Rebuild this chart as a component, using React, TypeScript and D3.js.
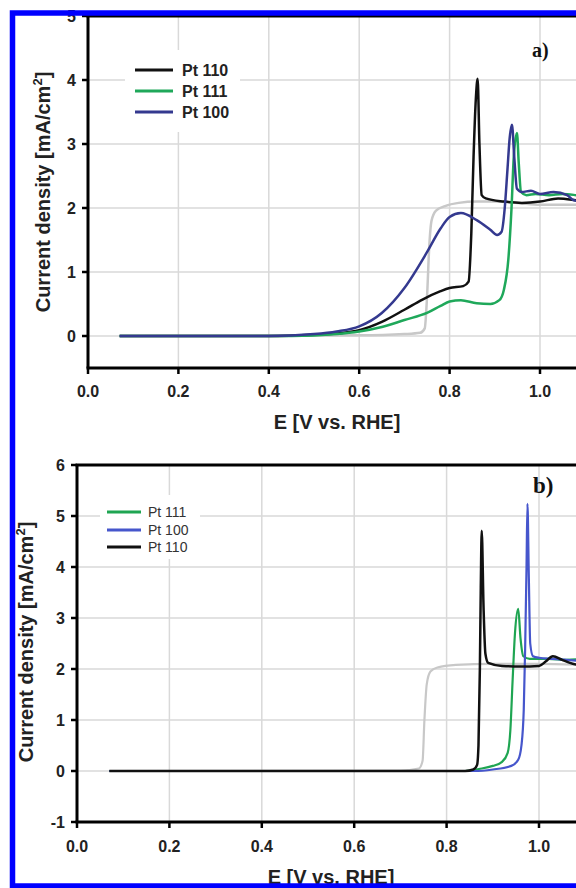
import React from "react";
import * as d3 from "d3";

type Pt = [number, number];

const xTicks = [0, 0.2, 0.4, 0.6, 0.8, 1.0];
const aYTicks = [0, 1, 2, 3, 4, 5];
const bYTicks = [-1, 0, 1, 2, 3, 4, 5, 6];

// panel a) values, [E, j]
const aRef: Pt[] = [[0.07,0],[0.6,0.01],[0.7,0.03],[0.735,0.05],[0.745,0.12],[0.75,0.6],[0.755,1.4],[0.76,1.8],[0.77,1.96],[0.79,2.03],[0.82,2.08],[0.86,2.1],[0.9,2.1],[0.95,2.08],[1.0,2.05],[1.05,2.05],[1.1,2.05]];
const aPt110: Pt[] = [[0.07,0],[0.4,0],[0.5,0.02],[0.55,0.04],[0.6,0.09],[0.65,0.22],[0.7,0.41],[0.74,0.57],[0.78,0.7],[0.8,0.75],[0.83,0.78],[0.842,0.85],[0.848,1.6],[0.853,2.8],[0.858,3.7],[0.862,4.02],[0.866,3.0],[0.871,2.2],[0.88,2.15],[0.92,2.1],[0.96,2.08],[1.0,2.1],[1.04,2.15],[1.08,2.12],[1.1,2.1]];
const aPt111: Pt[] = [[0.07,0],[0.45,0],[0.55,0.03],[0.6,0.07],[0.65,0.14],[0.7,0.25],[0.75,0.36],[0.78,0.47],[0.8,0.54],[0.825,0.56],[0.86,0.51],[0.89,0.5],[0.91,0.56],[0.92,0.72],[0.93,1.2],[0.937,2.0],[0.942,2.8],[0.949,3.17],[0.953,2.7],[0.958,2.25],[0.97,2.2],[0.99,2.22],[1.02,2.2],[1.05,2.22],[1.08,2.2],[1.1,2.18]];
const aPt100: Pt[] = [[0.07,0],[0.4,0],[0.5,0.03],[0.55,0.07],[0.6,0.15],[0.65,0.36],[0.7,0.75],[0.75,1.31],[0.78,1.68],[0.8,1.86],[0.825,1.92],[0.86,1.81],[0.89,1.66],[0.905,1.58],[0.915,1.63],[0.922,2.0],[0.928,2.6],[0.933,3.1],[0.938,3.3],[0.943,2.8],[0.949,2.3],[0.96,2.25],[0.98,2.27],[1.0,2.22],[1.03,2.25],[1.06,2.2],[1.075,2.12],[1.1,2.1]];

// panel b) values
const bRef: Pt[] = [[0.07,0],[0.7,0.01],[0.74,0.05],[0.748,0.2],[0.752,1.0],[0.757,1.7],[0.765,1.95],[0.78,2.03],[0.82,2.08],[0.9,2.1],[1.0,2.1],[1.1,2.08]];
const bPt110: Pt[] = [[0.07,0],[0.84,0],[0.858,0.03],[0.866,0.12],[0.869,0.5],[0.872,2.0],[0.874,3.6],[0.876,4.71],[0.88,3.2],[0.884,2.3],[0.89,2.12],[0.92,2.06],[0.96,2.05],[1.0,2.06],[1.015,2.15],[1.03,2.25],[1.05,2.18],[1.067,2.12],[1.1,2.05]];
const bPt111: Pt[] = [[0.07,0],[0.84,0],[0.87,0.04],[0.9,0.1],[0.92,0.18],[0.932,0.35],[0.938,0.8],[0.943,1.8],[0.948,2.7],[0.955,3.18],[0.96,2.6],[0.966,2.25],[0.98,2.2],[1.02,2.2],[1.06,2.18],[1.1,2.2]];
const bPt100: Pt[] = [[0.07,0],[0.86,0],[0.9,0.03],[0.94,0.1],[0.955,0.22],[0.962,0.5],[0.967,1.2],[0.97,2.4],[0.973,4.0],[0.975,5.24],[0.978,3.8],[0.981,2.5],[0.987,2.25],[1.0,2.22],[1.03,2.2],[1.06,2.18],[1.1,2.15]];

const FONT = "'Liberation Sans', Arial, sans-serif";
const GRID = "#d9d9d9";
const REF = "#c8c8c8";

interface Series { name?: string; data: Pt[]; color: string; width: number }

interface PanelProps {
  x0: number; pxPerV: number;
  yDomain: [number, number]; yRange: [number, number];
  yTicks: number[];
  series: Series[];
  legend: Series[];
  legendBox: [number, number, number, number];
  legendLine: [number, number]; legendRows: number[]; legendText: number;
  legendBold: boolean; legendSize: number; legendColor: string;
  label: string; labelPos: [number, number]; labelSize: number;
  xTitlePos: [number, number]; yTitlePos: [number, number];
  xLabelY: number;
}

const Panel = (p: PanelProps) => {
  const x = d3.scaleLinear().domain([0, 1.2]).range([p.x0, p.x0 + p.pxPerV * 1.2]);
  const y = d3.scaleLinear().domain(p.yDomain).range(p.yRange);
  const line = d3.line<Pt>().x((d) => x(d[0])).y((d) => y(d[1])).curve(d3.curveMonotoneX);
  const [yb, yt] = p.yRange;
  const xr = 600;

  return (
    <g>
      {xTicks.slice(1).map((t) => (
        <line key={"gx" + t} x1={x(t)} x2={x(t)} y1={yt} y2={yb} stroke={GRID} strokeWidth={1.5} />
      ))}
      {p.yTicks.filter((t) => y(t) > yt + 2 && y(t) < yb - 2).map((t) => (
        <line key={"gy" + t} x1={p.x0} x2={xr} y1={y(t)} y2={y(t)} stroke={GRID} strokeWidth={1.5} />
      ))}
      <rect x={p.legendBox[0]} y={p.legendBox[1]} width={p.legendBox[2]} height={p.legendBox[3]} fill="#fff" />
      {p.series.map((s, i) => (
        <path key={i} d={line(s.data) || ""} fill="none" stroke={s.color} strokeWidth={s.width} strokeLinejoin="round" />
      ))}
      {/* axes */}
      <line x1={p.x0} x2={p.x0} y1={yt} y2={yb} stroke="#000" strokeWidth={3} />
      <line x1={p.x0 - 1.5} x2={xr} y1={yb} y2={yb} stroke="#000" strokeWidth={3} />
      <line x1={p.x0 - 1.5} x2={xr} y1={yt} y2={yt} stroke="#000" strokeWidth={3} />
      {p.yTicks.map((t) => (
        <g key={"ty" + t}>
          <line x1={p.x0 - 6} x2={p.x0} y1={y(t)} y2={y(t)} stroke="#000" strokeWidth={2.5} />
          <text x={p.x0 - 12} y={y(t)} dy="0.36em" textAnchor="end" fontFamily={FONT} fontWeight="bold" fontSize={16} fill="#222">{t}</text>
        </g>
      ))}
      {xTicks.map((t) => (
        <g key={"tx" + t}>
          <line x1={x(t)} x2={x(t)} y1={yb} y2={yb + 6} stroke="#000" strokeWidth={2.5} />
          <text x={x(t)} y={p.xLabelY} textAnchor="middle" fontFamily={FONT} fontWeight="bold" fontSize={16} fill="#222">{t.toFixed(1)}</text>
        </g>
      ))}
      <text x={p.xTitlePos[0]} y={p.xTitlePos[1]} textAnchor="middle" fontFamily={FONT} fontWeight="bold" fontSize={20} fill="#222">E [V vs. RHE]</text>
      <text transform={`translate(${p.yTitlePos[0]},${p.yTitlePos[1]}) rotate(-90)`} textAnchor="middle" fontFamily={FONT} fontWeight="bold" fontSize={20} fill="#222">
        Current density [mA/cm<tspan dy="-8" fontSize={13}>2</tspan><tspan dy="8">]</tspan>
      </text>
      {p.legend.map((s, i) => (
        <g key={"lg" + i}>
          <line x1={p.legendLine[0]} x2={p.legendLine[1]} y1={p.legendRows[i]} y2={p.legendRows[i]} stroke={s.color} strokeWidth={3} />
          <text x={p.legendText} y={p.legendRows[i]} dy="0.36em" fontFamily={FONT} fontWeight={p.legendBold ? "bold" : "normal"} fontSize={p.legendSize} fill={p.legendColor}>{s.name}</text>
        </g>
      ))}
      <text x={p.labelPos[0]} y={p.labelPos[1]} fontFamily="'Liberation Serif', 'Times New Roman', serif" fontWeight="bold" fontSize={p.labelSize} fill="#111">{p.label}</text>
    </g>
  );
};

export default function App() {
  const aSeries: Series[] = [
    { data: aRef, color: REF, width: 2.5 },
    { name: "Pt 110", data: aPt110, color: "#111111", width: 2.5 },
    { name: "Pt 111", data: aPt111, color: "#1fa85a", width: 2.5 },
    { name: "Pt 100", data: aPt100, color: "#34398f", width: 2.5 },
  ];
  const bSeries: Series[] = [
    { data: bRef, color: REF, width: 2.2 },
    { name: "Pt 111", data: bPt111, color: "#1fa552", width: 2.2 },
    { name: "Pt 100", data: bPt100, color: "#4656cc", width: 2.2 },
    { name: "Pt 110", data: bPt110, color: "#111111", width: 2.5 },
  ];
  return (
    <svg width={576} height={888} style={{ position: "absolute", left: 0, top: 0, background: "#fff" }}>
      <rect width={576} height={888} fill="#fff" />
      <Panel
        x0={88} pxPerV={452} yDomain={[-0.5, 5]} yRange={[368, 16]} yTicks={aYTicks}
        series={aSeries} legend={[aSeries[1], aSeries[2], aSeries[3]]}
        legendBox={[125, 50, 115, 82]} legendLine={[135, 173]} legendRows={[70, 91, 112]} legendText={182}
        legendBold={true} legendSize={16} legendColor="#222"
        label="a)" labelPos={[532, 57]} labelSize={20} xTitlePos={[337, 429]} yTitlePos={[50, 192]} xLabelY={397}
      />
      <Panel
        x0={77} pxPerV={462} yDomain={[-1, 6]} yRange={[822, 465]} yTicks={bYTicks}
        series={bSeries} legend={[bSeries[1], bSeries[2], bSeries[3]]}
        legendBox={[100, 495, 100, 64]} legendLine={[107, 141]} legendRows={[512, 530, 547]} legendText={148}
        legendBold={false} legendSize={14} legendColor="#333"
        label="b)" labelPos={[533, 493]} labelSize={23} xTitlePos={[331, 884]} yTitlePos={[33, 642]} xLabelY={852}
      />
      <rect x={12.5} y={13} width={620} height={873} fill="none" stroke="#0000ff" strokeWidth={5.5} />
    </svg>
  );
}
